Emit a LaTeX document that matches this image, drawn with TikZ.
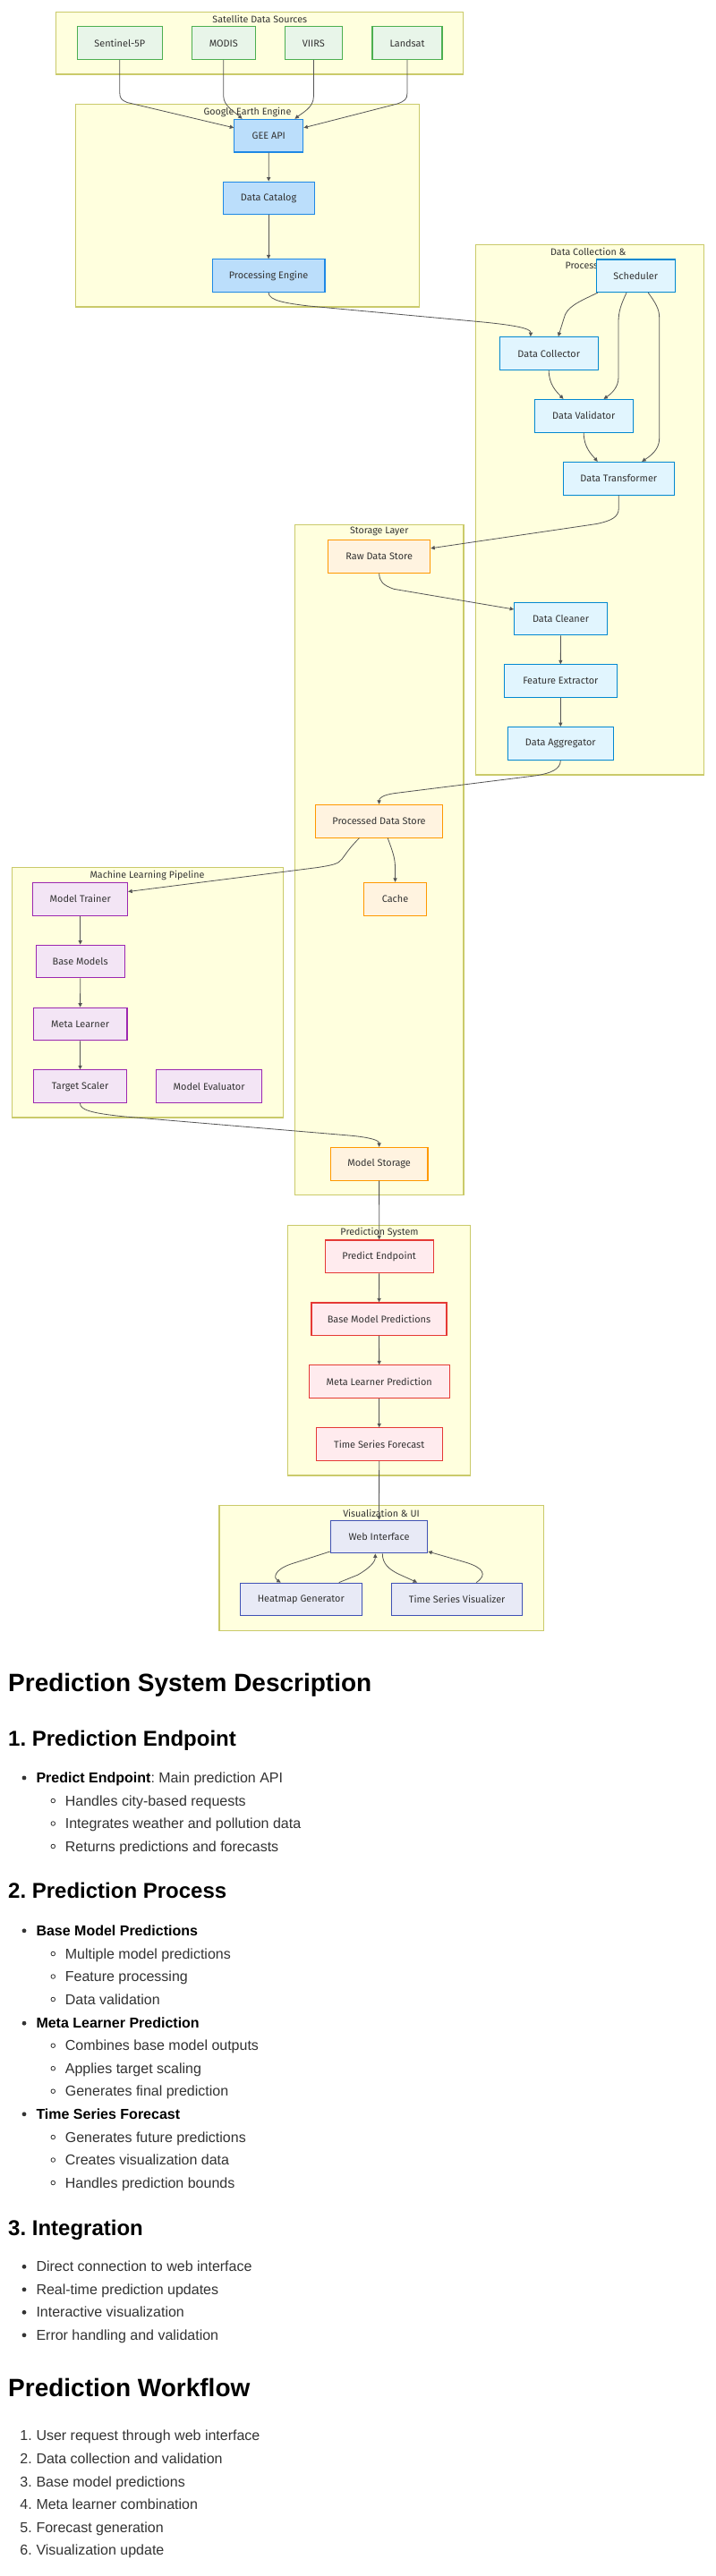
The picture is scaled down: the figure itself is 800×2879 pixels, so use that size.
\documentclass[tikz,border=0pt]{standalone}
\usepackage{fontspec}
\setmainfont{Liberation Sans}
\newfontfamily\nodefont{Fira Sans}
\usetikzlibrary{arrows.meta,calc}
\frenchspacing
\definecolor{clfill}{HTML}{FFFFDE}
\definecolor{clstroke}{HTML}{CACA6A}
\definecolor{edgec}{HTML}{555555}
\definecolor{txt}{HTML}{333333}
\definecolor{satF}{HTML}{E8F5E9}\definecolor{satD}{HTML}{4CAF50}
\definecolor{geeF}{HTML}{BBDEFB}\definecolor{geeD}{HTML}{1E88E5}
\definecolor{dcF}{HTML}{E1F5FE}\definecolor{dcD}{HTML}{0288D1}
\definecolor{stF}{HTML}{FFF3E0}\definecolor{stD}{HTML}{FF9800}
\definecolor{mlF}{HTML}{F3E5F5}\definecolor{mlD}{HTML}{9C27B0}
\definecolor{prF}{HTML}{FFEBEE}\definecolor{prD}{HTML}{E53935}
\definecolor{vzF}{HTML}{E8EAF6}\definecolor{vzD}{HTML}{3F51B5}
\tikzset{
  cluster/.style={draw=clstroke, fill=clfill, line width=1.1pt},
  cltitle/.style={font=\nodefont\fontsize{10.7}{12}\selectfont, text=txt, inner sep=0pt},
  nbox/.style={rectangle, minimum height=36.7pt, inner sep=0pt, line width=1.1pt,
     font=\nodefont\fontsize{10.9}{12}\selectfont, text=txt},
  satn/.style={nbox, fill=satF, draw=satD},
  geen/.style={nbox, fill=geeF, draw=geeD},
  dcn/.style={nbox, fill=dcF, draw=dcD},
  stn/.style={nbox, fill=stF, draw=stD},
  mln/.style={nbox, fill=mlF, draw=mlD},
  prn/.style={nbox, fill=prF, draw=prD},
  vzn/.style={nbox, fill=vzF, draw=vzD},
  edge/.style={draw=edgec, line width=0.8pt, -{Triangle[length=4.5pt,width=4.2pt]}},
  hdA/.style={anchor=base west, inner sep=0pt, text=black, font=\fontsize{28}{32}\selectfont\bfseries},
  hdB/.style={anchor=base west, inner sep=0pt, text=black, font=\fontsize{24}{28}\selectfont\bfseries},
  bodyt/.style={anchor=base west, inner sep=0pt, text=txt, font=\fontsize{16}{19}\selectfont},
  numt/.style={anchor=base east, inner sep=0pt, text=txt, font=\fontsize{16}{19}\selectfont},
}
\newcommand{\bdot}[1]{\fill[txt] (27,#1-5.5) circle (2.4);}
\newcommand{\bcirc}[1]{\draw[txt, line width=0.8pt] (59.3,#1-5.5) circle (2.3);}
\begin{document}
\begin{tikzpicture}[x=1pt, y=-1pt]
\fill[white] (0,0) rectangle (800,2879);
\useasboundingbox (0,0) rectangle (800,2879);
% clusters
\draw[cluster] (62.3,13.3) rectangle (517.2,83);
\draw[cluster] (84.7,116.7) rectangle (468.3,343);
\draw[cluster] (531.3,273.3) rectangle (786.7,866);
\draw[cluster] (329.3,586.7) rectangle (518,1335.7);
\draw[cluster] (13.4,969.3) rectangle (316.1,1249);
\draw[cluster] (321.7,1369.3) rectangle (525.3,1649);
\draw[cluster] (245,1682.3) rectangle (607.3,1822.3);
% titles
\node[cltitle] (ttsat) at (290.3,21) {Satellite Data Sources};
\node[cltitle] (ttgee) at (276.5,125.3) {Google Earth Engine};
\node[cltitle] (ttdc1) at (657.3,281) {Data Collection \&};
\node[cltitle] (ttdc2) at (657.3,297) {Processing};
\node[cltitle] (ttst) at (423.7,594) {Storage Layer};
\node[cltitle] (ttml) at (164.6,978.3) {Machine Learning Pipeline};
\node[cltitle] (ttpr) at (424,1377) {Prediction System};
\node[cltitle] (ttvz) at (426,1691) {Visualization \& UI};
% nodes
\node[satn, minimum width=95.4pt] (s5p) at (133.8,48.3) {Sentinel-5P};
\node[satn, minimum width=70.6pt] (modis) at (249.8,48.3) {MODIS};
\node[satn, minimum width=64.4pt] (viirs) at (350.4,48.3) {VIIRS};
\node[satn, minimum width=78pt] (land) at (455,48.3) {Landsat};
\node[geen, minimum width=77pt] (gee) at (300.3,151.7) {GEE API};
\node[geen, minimum width=102pt] (cat) at (300.1,221.5) {Data Catalog};
\node[geen, minimum width=125.7pt] (proc) at (300.1,308.2) {Processing Engine};
\node[dcn, minimum width=88pt] (sch) at (710.3,308.3) {Scheduler};
\node[dcn, minimum width=110.3pt] (col) at (613.2,395) {Data Collector};
\node[dcn, minimum width=109.7pt] (val) at (652.2,464.8) {Data Validator};
\node[dcn, minimum width=124pt] (tra) at (691.3,534.8) {Data Transformer};
\node[stn, minimum width=114pt] (raw) at (423.7,621.7) {Raw Data Store};
\node[dcn, minimum width=103.6pt] (cln) at (626.5,691.5) {Data Cleaner};
\node[dcn, minimum width=126pt] (fex) at (626.3,761.2) {Feature Extractor};
\node[dcn, minimum width=118pt] (agg) at (626.3,831) {Data Aggregator};
\node[stn, minimum width=141.6pt] (pds) at (423.5,917.7) {Processed Data Store};
\node[stn, minimum width=69.5pt] (cache) at (441.5,1004.7) {Cache};
\node[mln, minimum width=105.8pt] (mt) at (89.7,1004.8) {Model Trainer};
\node[mln, minimum width=98.8pt] (bm) at (89.7,1074.5) {Base Models};
\node[mln, minimum width=104.7pt] (mlr) at (89.6,1144.5) {Meta Learner};
\node[mln, minimum width=103.3pt] (tsc) at (89.5,1214.2) {Target Scaler};
\node[mln, minimum width=118pt] (mev) at (233.6,1214.2) {Model Evaluator};
\node[stn, minimum width=108.8pt] (ms) at (423.6,1300.8) {Model Storage};
\node[prn, minimum width=120.7pt] (pe) at (423.7,1404.3) {Predict Endpoint};
\node[prn, minimum width=151pt] (bmp) at (423.5,1474.3) {Base Model Predictions};
\node[prn, minimum width=156.7pt] (mlp) at (423.7,1544.2) {Meta Learner Prediction};
\node[prn, minimum width=140.7pt] (tsf) at (423.7,1614.2) {Time Series Forecast};
\node[vzn, minimum width=108.4pt] (web) at (423.5,1717.5) {Web Interface};
\node[vzn, minimum width=136pt] (hm) at (336.3,1787.5) {Heatmap Generator};
\node[vzn, minimum width=146pt] (tsv) at (510.7,1787.5) {Time Series Visualizer};
% edges
\draw[edge] (s5p.south) -- (133.8,104) .. controls (133.8,110) and (136,112) .. (142,114.5) -- ($(gee.north west)+(0,10)$);
\draw[edge] (modis.south) -- (249.8,108) .. controls (249.8,118) and (262,125) .. ($(gee.north west)+(9.3,0)$);
\draw[edge] (viirs.south) -- (350.4,108) .. controls (350.4,120) and (338,126) .. ($(gee.north east)+(-9.9,0)$);
\draw[edge] (land.south) -- (455,104) .. controls (455,111) and (452,113) .. (444,116) -- ($(gee.north east)+(0,10)$);
\draw[edge] (gee) -- (cat);
\draw[edge] (cat) -- (proc);
\draw[edge] (proc.south) .. controls (300.1,336) and (320,339) .. (345,342) -- (540,360) .. controls (575,363.5) and (593.3,367) .. ($(col.north west)+(35.3,0)$);
\draw[edge] ($(sch.south west)+(2,0)$) .. controls (645,338) and (633,343) .. (630,356) -- ($(col.north west)+(66.3,0)$);
\draw[edge] ($(sch.south)+(-10.3,0)$) .. controls (694,340) and (691,348) .. (691,360) -- (691,422) .. controls (691,433) and (683,440) .. ($(val.north west)+(77.7,0)$);
\draw[edge] ($(sch.south)+(14,0)$) .. controls (732,338) and (736.7,345) .. (736.7,355) -- (736.7,490) .. controls (736.7,503) and (726,510) .. ($(tra.north west)+(88.4,0)$);
\draw[edge] (col.south) .. controls (613.2,430) and (622,438) .. ($(val.north west)+(32.7,0)$);
\draw[edge] (val.south) .. controls (652.2,500) and (661,508) .. ($(tra.north west)+(39,0)$);
\draw[edge] (tra.south) -- (691.3,568) .. controls (691.3,578) and (683,582) .. (666.7,585.5) -- ($(raw.north east)+(0,10)$);
\draw[edge] (raw.south) .. controls (423.7,650) and (428,654) .. (440,658.3) -- ($(cln.north west)+(0,8.4)$);
\draw[edge] (cln) -- (fex);
\draw[edge] (fex) -- (agg);
\draw[edge] (agg.south) .. controls (626.3,860) and (615,864) .. (600,866.7) -- (440,886.7) .. controls (428,888.5) and (423.5,892) .. (pds.north);
\draw[edge] ($(pds.south)+(9.7,0)$) .. controls (438,950) and (441.5,958) .. (441.5,970) -- (cache.north);
\draw[edge] ($(pds.south)+(-22,0)$) .. controls (392,946) and (388,952) .. (382.2,960) .. controls (378,966) and (370,967) .. (355,969.5) -- ($(mt.north east)+(0,10.6)$);
\draw[edge] (mt) -- (bm);
\draw[edge] (bm) -- (mlr);
\draw[edge] (mlr) -- (tsc);
\draw[edge] (tsc.south) .. controls (89.5,1240) and (100,1244) .. (140,1248) -- (390,1269) .. controls (412,1271) and (423.6,1274) .. (ms.north);
\draw[edge] (ms) -- (pe);
\draw[edge] (pe) -- (bmp);
\draw[edge] (bmp) -- (mlp);
\draw[edge] (mlp) -- (tsf);
\draw[edge] (tsf) -- (web);
\draw[edge] ($(web.south west)+(0,-2.4)$) -- (325,1748) .. controls (305,1755) and (306,1764) .. ($(hm.north west)+(46,0)$);
\draw[edge] ($(hm.north west)+(111,0)$) -- (400,1760) .. controls (412,1753) and (419.3,1746) .. ($(web.south)+(-4.2,0)$);
\draw[edge] ($(web.south)+(3.8,0)$) .. controls (427.3,1748) and (435,1754) .. (445,1759) -- ($(tsv.north west)+(29,0)$);
\draw[edge] ($(tsv.north west)+(95,0)$) .. controls (545,1760) and (540,1752) .. (520,1746) -- ($(web.south east)+(0,-2.4)$);
% text section
\node[hdA] (h1a) at (9,1890) {Prediction System Description};
\node[hdB] (h2a) at (9,1951) {1. Prediction Endpoint};
\bdot{1992.5}
\node[bodyt] (l1) at (40.3,1992.5) {{\color{black}\bfseries Predict Endpoint}: Main prediction API};
\bcirc{2018}\node[bodyt] (l2) at (72.7,2018) {Handles city-based requests};
\bcirc{2043.5}\node[bodyt] (l3) at (72.7,2043.5) {Integrates weather and pollution data};
\bcirc{2069}\node[bodyt] (l4) at (72.7,2069) {Returns predictions and forecasts};
\node[hdB] (h2b) at (9,2121.7) {2. Prediction Process};
\bdot{2163.3}
\node[bodyt, text=black] (l5) at (40.3,2163.3) {\bfseries Base Model Predictions};
\bcirc{2189}\node[bodyt] (l6) at (72.7,2189) {Multiple model predictions};
\bcirc{2214.5}\node[bodyt] (l7) at (72.7,2214.5) {Feature processing};
\bcirc{2240}\node[bodyt] (l8) at (72.7,2240) {Data validation};
\bdot{2266.7}
\node[bodyt, text=black] (l9) at (40.3,2266.7) {\bfseries Meta Learner Prediction};
\bcirc{2291.7}\node[bodyt] (l10) at (72.7,2291.7) {Combines base model outputs};
\bcirc{2317.2}\node[bodyt] (l11) at (72.7,2317.2) {Applies target scaling};
\bcirc{2342.7}\node[bodyt] (l12) at (72.7,2342.7) {Generates final prediction};
\bdot{2368.3}
\node[bodyt, text=black] (l13) at (40.3,2368.3) {\bfseries Time Series Forecast};
\bcirc{2394}\node[bodyt] (l14) at (72.7,2394) {Generates future predictions};
\bcirc{2419.5}\node[bodyt] (l15) at (72.7,2419.5) {Creates visualization data};
\bcirc{2445}\node[bodyt] (l16) at (72.7,2445) {Handles prediction bounds};
\node[hdB] (h2c) at (9,2498.3) {3. Integration};
\bdot{2538.8}\node[bodyt] (l17) at (40.3,2538.8) {Direct connection to web interface};
\bdot{2564.3}\node[bodyt] (l18) at (40.3,2564.3) {Real-time prediction updates};
\bdot{2589.8}\node[bodyt] (l19) at (40.3,2589.8) {Interactive visualization};
\bdot{2615.3}\node[bodyt] (l20) at (40.3,2615.3) {Error handling and validation};
\node[hdA] (h1b) at (9,2678.3) {Prediction Workflow};
\node[numt] (n1) at (36,2727.8) {1.};\node[bodyt] (o1) at (40.3,2727.8) {User request through web interface};
\node[numt] (n2) at (36,2753.4) {2.};\node[bodyt] (o2) at (40.3,2753.4) {Data collection and validation};
\node[numt] (n3) at (36,2779) {3.};\node[bodyt] (o3) at (40.3,2779) {Base model predictions};
\node[numt] (n4) at (36,2804.6) {4.};\node[bodyt] (o4) at (40.3,2804.6) {Meta learner combination};
\node[numt] (n5) at (36,2830.1) {5.};\node[bodyt] (o5) at (40.3,2830.1) {Forecast generation};
\node[numt] (n6) at (36,2855.7) {6.};\node[bodyt] (o6) at (40.3,2855.7) {Visualization update};
\end{tikzpicture}
\end{document}
